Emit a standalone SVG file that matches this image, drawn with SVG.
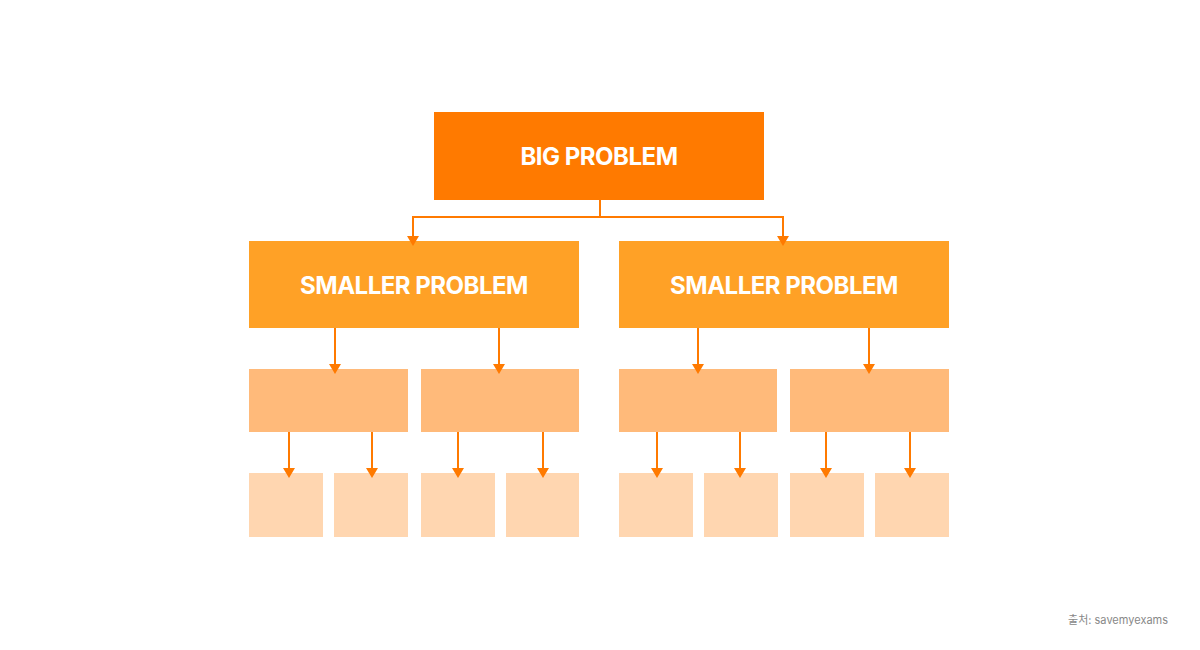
<svg xmlns="http://www.w3.org/2000/svg" width="1200" height="650" viewBox="0 0 1200 650">
<style>
.l{stroke:#FF7A00;stroke-width:2;fill:none}
.h{fill:#FF7A00}
.t{font-family:Inter,"Liberation Sans",sans-serif;font-weight:700;fill:#fff;text-anchor:middle;letter-spacing:-0.5px}
.m{fill:#FFBA7A}.b{fill:#FFD6B0}
</style>
<defs><path id="a" d="M-6,-10 L6,-10 L0,0 Z" class="h"/></defs>
<rect width="1200" height="650" fill="#fff"/>
<g id="big"><rect x="434" y="112" width="330" height="88" fill="#FF7A00"/><text class="t" x="599" y="165" font-size="24">BIG PROBLEM</text></g>
<g id="s1"><rect x="249" y="241" width="330" height="87" fill="#FFA126"/><text class="t" x="414" y="294" font-size="24">SMALLER PROBLEM</text></g>
<g id="s2"><rect x="619" y="241" width="330" height="87" fill="#FFA126"/><text class="t" x="784" y="294" font-size="24">SMALLER PROBLEM</text></g>
<g id="m1"><rect class="m" x="249" y="369" width="159" height="63"/></g>
<g id="m2"><rect class="m" x="421" y="369" width="158" height="63"/></g>
<g id="m3"><rect class="m" x="619" y="369" width="158" height="63"/></g>
<g id="m4"><rect class="m" x="790" y="369" width="159" height="63"/></g>
<g id="b1"><rect class="b" x="249" y="473" width="74" height="64"/></g>
<g id="b2"><rect class="b" x="334" y="473" width="74" height="64"/></g>
<g id="b3"><rect class="b" x="421" y="473" width="74" height="64"/></g>
<g id="b4"><rect class="b" x="506" y="473" width="73" height="64"/></g>
<g id="b5"><rect class="b" x="619" y="473" width="74" height="64"/></g>
<g id="b6"><rect class="b" x="704" y="473" width="74" height="64"/></g>
<g id="b7"><rect class="b" x="790" y="473" width="74" height="64"/></g>
<g id="b8"><rect class="b" x="875" y="473" width="74" height="64"/></g>
<g id="connectors">
<path class="l" d="M600,200 V217 M413,217 H783 M413,216 V236 M783,216 V236"/>
<use href="#a" x="413" y="246"/><use href="#a" x="783" y="246"/>
<path class="l" d="M335,328 V365 M499,328 V365 M698,328 V365 M869,328 V365"/>
<use href="#a" x="335" y="374"/><use href="#a" x="499" y="374"/><use href="#a" x="698" y="374"/><use href="#a" x="869" y="374"/>
<path class="l" d="M289,432 V469 M372,432 V469 M458,432 V469 M543,432 V469 M657,432 V469 M740,432 V469 M826,432 V469 M910,432 V469"/>
<use href="#a" x="289" y="478"/><use href="#a" x="372" y="478"/><use href="#a" x="458" y="478"/><use href="#a" x="543" y="478"/><use href="#a" x="657" y="478"/><use href="#a" x="740" y="478"/><use href="#a" x="826" y="478"/><use href="#a" x="910" y="478"/>
</g>
<text x="1168" y="624" font-size="11" fill="#888" text-anchor="end" font-family="Inter,'Liberation Sans','Noto Sans CJK KR',sans-serif">출처: savemyexams</text>
</svg>
